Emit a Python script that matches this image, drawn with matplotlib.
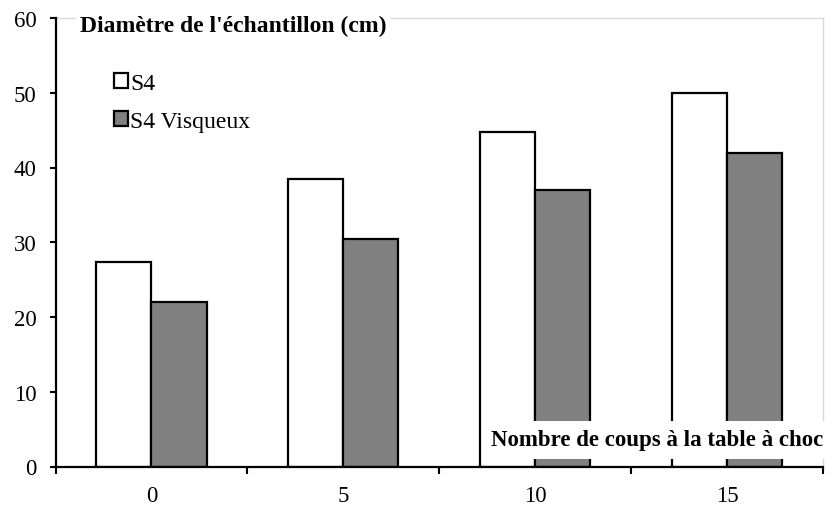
import numpy as np
import matplotlib
matplotlib.use('Agg')
import matplotlib.pyplot as plt
from matplotlib import rcParams

rcParams['font.family'] = ['Liberation Serif', 'DejaVu Serif']

categories = ['0', '5', '10', '15']
s4 = [27.4, 38.4, 44.7, 50.0]
s4_visqueux = [22.0, 30.4, 37.0, 42.0]

fig = plt.figure(figsize=(8.39, 5.06), dpi=100)
ax = fig.add_axes([55.5 / 839, 1 - 467.5 / 506, (823 - 55.5) / 839, (467.5 - 19) / 506])

x = np.arange(len(categories))
w = 0.287
ax.bar(x - w / 2, s4, w, color='white', edgecolor='black', linewidth=1.6, label='S4', zorder=2)
ax.bar(x + w / 2, s4_visqueux, w, color='#808080', edgecolor='black', linewidth=1.6,
       label='S4 Visqueux', zorder=2)

ax.set_xlim(-0.5, len(categories) - 0.5)
ax.set_ylim(0, 60)
ax.set_yticks(range(0, 61, 10))
ax.set_xticks(x)
ax.set_xticklabels(categories)
ax.set_xticks(np.arange(-0.5, len(categories), 1), minor=True)
ax.tick_params(axis='x', which='major', length=0, pad=13, labelsize=16.5)
ax.tick_params(axis='x', which='minor', length=5, width=1.5, direction='out')
ax.tick_params(axis='y', length=4.5, width=1.5, direction='out', labelsize=16.5, pad=9)

for side in ['top', 'right']:
    ax.spines[side].set_color('#d9d9d9')
    ax.spines[side].set_linewidth(1)
for side in ['left', 'bottom']:
    ax.spines[side].set_linewidth(1.6)
    ax.spines[side].set_zorder(3)

fig.text(80 / 839, 1 - 26 / 506, "Diamètre de l'échantillon (cm)", fontsize=17, fontweight='bold',
         va='center', ha='left', zorder=5,
         bbox=dict(facecolor='white', edgecolor='none', pad=3))
fig.text(823 / 839, 1 - 441 / 506, 'Nombre de coups à la table à choc', fontsize=16.5,
         fontweight='bold', va='center', ha='right', zorder=5,
         bbox=dict(facecolor='white', edgecolor='none', pad=6))

leg = ax.legend(loc='upper left', bbox_to_anchor=((114 - 55.5) / 768, 1 - (74 - 19) / 448.5),
                frameon=False, fontsize=17, handlelength=0.6, handleheight=0.6,
                handletextpad=0.1, labelspacing=0.72, borderaxespad=0, borderpad=0)

plt.savefig('out.png', dpi=100)
plt.close()
